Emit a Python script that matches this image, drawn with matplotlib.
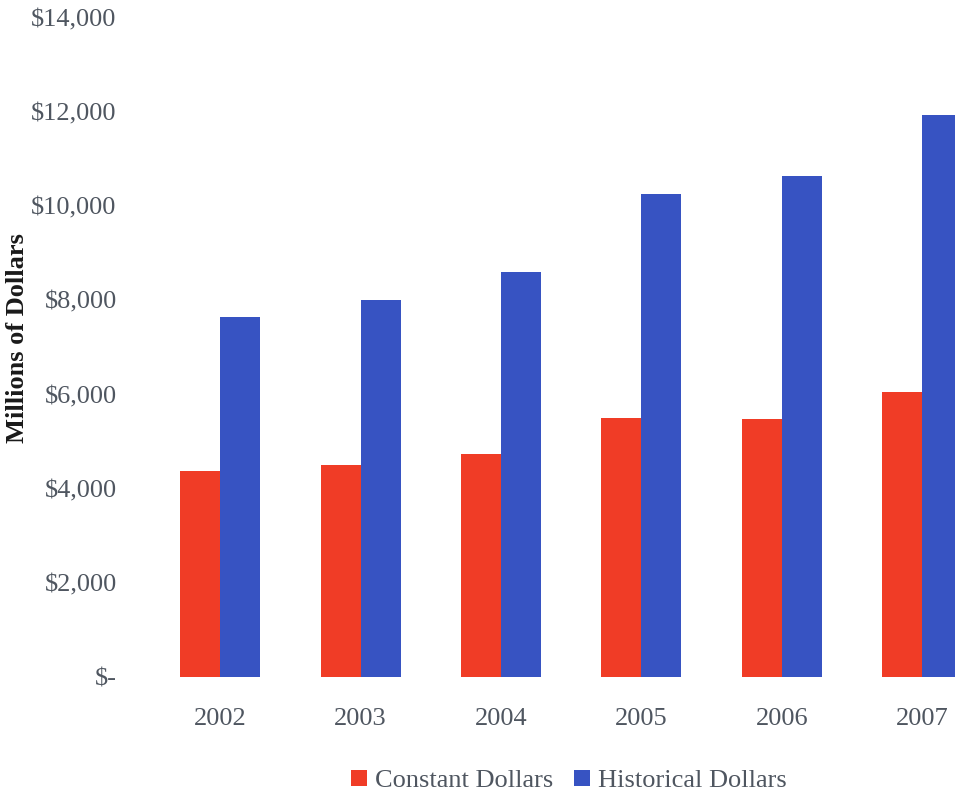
import matplotlib

matplotlib.use("Agg")

import matplotlib.pyplot as plt
import numpy as np
from matplotlib.ticker import FuncFormatter


YEARS = ["2002", "2003", "2004", "2005", "2006", "2007"]
CONSTANT_DOLLARS = [4380, 4510, 4745, 5510, 5490, 6045]
HISTORICAL_DOLLARS = [7640, 8000, 8595, 10255, 10640, 11935]
Y_TICKS = [0, 2000, 4000, 6000, 8000, 10000, 12000, 14000]

RED = "#f03c26"
BLUE = "#3753c2"
TEXT_COLOR = "#4f5660"
FONT = "Liberation Serif"


def dollar_label(value, _position):
    """Format axis values the way the source chart does."""
    if value == 0:
        return "$-"
    return f"${value:,.0f}"


def main() -> None:
    plt.rcParams["font.family"] = FONT

    figure = plt.figure(figsize=(9.55, 7.98), dpi=100)
    axis = figure.add_axes([150 / 955, 121 / 798, 805 / 955, 659 / 798])

    positions = np.arange(len(YEARS))
    bar_width = 0.285
    axis.bar(positions - bar_width / 2, CONSTANT_DOLLARS, bar_width,
             color=RED, label="Constant Dollars")
    axis.bar(positions + bar_width / 2, HISTORICAL_DOLLARS, bar_width,
             color=BLUE, label="Historical Dollars")

    axis.set_xlim(-0.5, -0.5 + 805 / 140.4)
    axis.set_ylim(0, 14000)
    axis.set_xticks(positions)
    axis.set_xticklabels(YEARS)
    axis.set_yticks(Y_TICKS)
    axis.yaxis.set_major_formatter(FuncFormatter(dollar_label))
    axis.tick_params(axis="x", length=0, pad=22, labelsize=19, labelcolor=TEXT_COLOR)
    axis.tick_params(axis="y", length=0, pad=24, labelsize=19, labelcolor=TEXT_COLOR)

    for spine in axis.spines.values():
        spine.set_visible(False)

    figure.text(18 / 955, 1 - 338 / 798, "Millions of Dollars", rotation=90,
                ha="center", va="center", fontsize=19, fontweight="bold",
                color="#1a1a1a")

    figure.legend(
        loc="center",
        bbox_to_anchor=(569 / 955, 1 - 781 / 798),
        ncol=2,
        frameon=False,
        fontsize=19,
        labelcolor=TEXT_COLOR,
        handlelength=0.6,
        handleheight=0.6,
        handletextpad=0.3,
        columnspacing=0.8,
    )

    figure.savefig("out.png", dpi=100)
    plt.close(figure)


if __name__ == "__main__":
    main()
